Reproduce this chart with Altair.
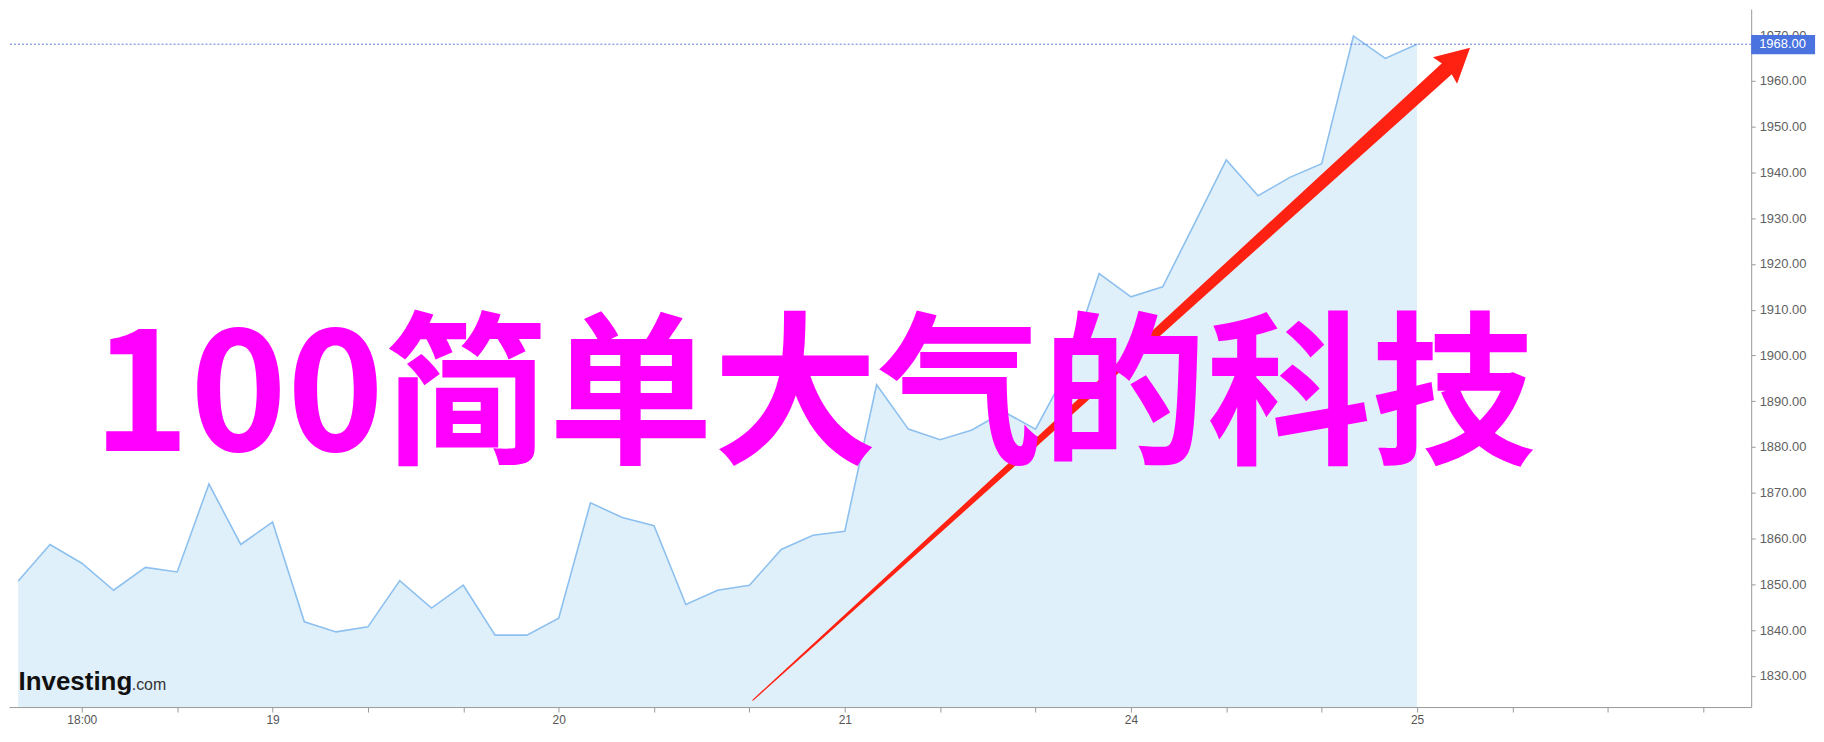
import altair as alt
import pandas as pd

# ---- series (hourly index, price) ----
idx = list(range(45))
prices = [1850.7, 1858.7, 1854.6, 1848.7, 1853.7, 1852.7, 1871.9, 1858.7, 1863.6, 1841.8,
          1839.6, 1840.7, 1850.8, 1844.8, 1849.8, 1838.9, 1838.9, 1842.6, 1867.8, 1864.6,
          1862.8, 1845.6, 1848.7, 1849.8, 1857.6, 1860.7, 1861.6, 1893.6, 1883.9, 1881.6,
          1883.7, 1887.7, 1883.9, 1896.8, 1917.9, 1912.8, 1915.0, 1928.8, 1942.7, 1934.9,
          1938.9, 1941.9, 1969.8, 1964.9, 1968.0]

# ---- axes ----
x_domain = [-0.29, 54.51]
y_domain = [1823.18, 1975.69]
x_tick_idx = list(range(2, 54, 3))
x_label_idx = [2, 8, 17, 26, 35, 44]
x_label_txt = ["18:00", "19", "20", "21", "24", "25"]
y_ticks = list(range(1830, 1971, 10))

# ---- annotations ----
last_price = [1968.0]
last_label = ["1968.00"]
box_x = [54.51]
box_x2 = [56.52]
box_y = [1970.0]
box_y2 = [1965.8]
box_text_x = [54.76]

arrow_x = [23.11, 45.18]
arrow_y = [1824.7, 1964.16]
arrow_w = [1.2, 15.0]
head_x = [45.18]
head_y = [1964.16]
head_angle = 47.7
head_size = 1764

title_txt = ["100简单大气的科技"]
title_x = [25.04]
title_y = [1879.2]

logo_main = ["Investing"]
logo_main_x = [0.01]
logo_dom = [".com"]
logo_dom_x = [3.57]
logo_y = [1826.9]

df = pd.DataFrame({"i": idx, "p": prices})

label_expr = " : ".join(
    f"datum.value == {i} ? '{t}'" for i, t in zip(x_label_idx, x_label_txt)
) + " : ''"

xs = alt.Scale(domain=x_domain, nice=False, zero=False)
ys = alt.Scale(domain=y_domain, nice=False, zero=False)

x_axis = alt.Axis(values=x_tick_idx, labelExpr=label_expr, grid=False,
                  domainColor="#9a9a9a", tickColor="#9a9a9a", tickSize=5,
                  labelColor="#555555", labelFontSize=12, labelFont="Liberation Sans",
                  labelPadding=2, title=None, labelOverlap=False)
y_axis = alt.Axis(orient="right", values=y_ticks, format=".2f", grid=False,
                  domainColor="#9a9a9a", tickColor="#9a9a9a", tickSize=4,
                  labelColor="#5f5f5f", labelFontSize=13, labelFont="Liberation Sans",
                  labelPadding=4, title=None, labelOverlap=False)


def X(field):
    return alt.X(field, type="quantitative", scale=xs, axis=x_axis)


def Y(field):
    return alt.Y(field, type="quantitative", scale=ys, axis=y_axis)


area = alt.Chart(df).mark_area(color="#e0f0fa", opacity=1).encode(
    x=X("i"), y=Y("p"), y2=alt.datum(y_domain[0]),
)
line = alt.Chart(df).mark_line(color="#8dc0ef", strokeWidth=1.6).encode(
    x=X("i"), y=Y("p"),
)

rule = alt.Chart(pd.DataFrame({"v": last_price})).mark_rule(
    color="#5b7ce0", strokeDash=[2, 2], strokeWidth=1
).encode(y=Y("v"))

shaft = alt.Chart(pd.DataFrame({"x": arrow_x, "y": arrow_y, "w": arrow_w})).mark_trail(
    color="#ff2213"
).encode(
    x=X("x"), y=Y("y"),
    size=alt.Size("w:Q", scale=None, legend=None),
)
head = alt.Chart(pd.DataFrame({"x": head_x, "y": head_y})).mark_point(
    shape="M0,-1L0.86,0.62L0,0.42L-0.86,0.62Z", filled=True, fill="#ff2213",
    opacity=1, strokeWidth=0, size=head_size, angle=head_angle
).encode(x=X("x"), y=Y("y"))

title = alt.Chart(pd.DataFrame({"x": title_x, "y": title_y, "t": title_txt})).mark_text(
    font="Noto Sans CJK SC", fontWeight="bold", fontSize=165, color="#ff00ff",
    align="center", baseline="alphabetic"
).encode(x=X("x"), y=Y("y"), text="t:N")

logo1 = alt.Chart(pd.DataFrame({"x": logo_main_x, "y": logo_y, "t": logo_main})).mark_text(
    font="Liberation Sans", fontWeight="bold", fontSize=26, color="#111111",
    align="left", baseline="alphabetic"
).encode(x=X("x"), y=Y("y"), text="t:N")
logo2 = alt.Chart(pd.DataFrame({"x": logo_dom_x, "y": logo_y, "t": logo_dom})).mark_text(
    font="Liberation Sans", fontSize=16, color="#333333",
    align="left", baseline="alphabetic"
).encode(x=X("x"), y=Y("y"), text="t:N")

box = alt.Chart(pd.DataFrame({"x": box_x, "x2": box_x2, "y": box_y, "y2": box_y2})).mark_rect(
    color="#4a73e0"
).encode(x=X("x"), x2="x2:Q", y=Y("y"), y2="y2:Q")
box_txt = alt.Chart(pd.DataFrame({"x": box_text_x, "y": last_price, "t": last_label})).mark_text(
    font="Liberation Sans", fontSize=13, color="#ffffff", align="left", baseline="middle"
).encode(x=X("x"), y=Y("y"), text="t:N")

chart = alt.layer(
    area, line, rule, shaft, head, title, logo1, logo2, box, box_txt
).properties(
    width=1747, height=700,
    padding={"left": 0, "top": 0, "right": 0, "bottom": 0},
    background="white",
).configure_view(stroke=None)

chart.save("out.html", embed_options={"renderer": "svg", "actions": False})
